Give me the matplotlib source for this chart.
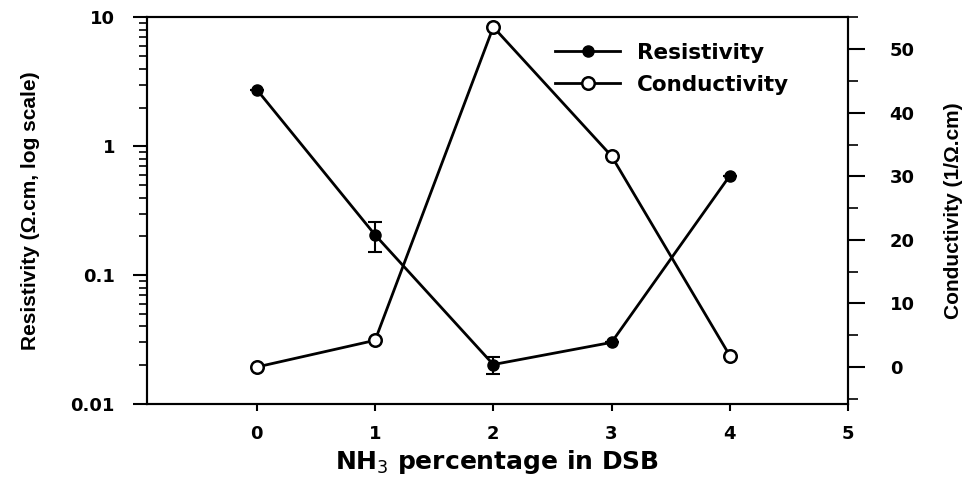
import numpy as np
import matplotlib.pyplot as plt
from matplotlib.ticker import LogLocator, NullFormatter, MultipleLocator

# donnees
nh3 = [0, 1, 2, 3, 4]
resistivite = [2.75, 0.205, 0.0202, 0.030, 0.59]
err_bas = [0.0, 0.055, 0.003, 0.0, 0.0]
err_haut = [0.0, 0.055, 0.003, 0.0, 0.0]
conductivite = [0.0, 4.2, 53.5, 33.2, 1.8]

x_ticks = [0, 1, 2, 3, 4, 5]
left_ticks = [0.01, 0.1, 1, 10]
left_labels = ['0.01', '0.1', '1', '10']
right_ticks = [0, 10, 20, 30, 40, 50]

plt.rcParams['font.family'] = ['DejaVu Sans']
label_font = ['Liberation Sans', 'DejaVu Sans']

fig = plt.figure(figsize=(9.73, 4.86), dpi=100)
ax1 = fig.add_axes([0.151, 0.169, 0.7205, 0.795])
ax2 = ax1.twinx()

# resistivite (echelle log)
l1, = ax1.plot(nh3, resistivite, '-o', color='black', lw=2, ms=8,
               mfc='black', mec='black', label='Resistivity')
ax1.errorbar(nh3, resistivite, yerr=[err_bas, err_haut], fmt='none',
             ecolor='black', elinewidth=1.5, capsize=5, capthick=1.5)
ax1.set_yscale('log')
ax1.set_ylim(0.01, 10)
ax1.set_xlim(-0.93, 5)
ax1.set_yticks(left_ticks)
ax1.set_yticklabels(left_labels)
ax1.yaxis.set_minor_locator(LogLocator(base=10, subs=np.arange(2, 10)))
ax1.yaxis.set_minor_formatter(NullFormatter())
ax1.set_xticks(x_ticks)
ax1.tick_params(axis='y', which='major', length=10, width=1.5, direction='out', pad=13)
ax1.tick_params(axis='y', which='minor', length=6, width=1.2, direction='out')
ax1.tick_params(axis='x', length=5, width=1.5, direction='out', pad=10)
for lab in ax1.get_xticklabels() + ax1.get_yticklabels():
    lab.set_fontweight('bold')
    lab.set_fontsize(13)
ax1.set_ylabel('Resistivity (\u03a9.cm, log scale)', fontsize=15,
               family=label_font, fontweight='bold', labelpad=22)
ax1.set_xlabel('NH$_3$ percentage in DSB', fontsize=18, fontweight='bold',
               labelpad=4)

# conductivite (echelle lineaire)
l2, = ax2.plot(nh3, conductivite, '-o', color='black', lw=2, ms=9,
               mfc='white', mec='black', mew=1.8, label='Conductivity')
ax2.set_ylim(-5.8, 55)
ax2.set_yticks(right_ticks)
ax2.yaxis.set_minor_locator(MultipleLocator(5))
ax2.tick_params(axis='y', which='major', length=12, width=1.5, direction='out', pad=18)
ax2.tick_params(axis='y', which='minor', length=7, width=1.2, direction='out')
for lab in ax2.get_yticklabels():
    lab.set_fontweight('bold')
    lab.set_fontsize(13)
ax2.set_ylabel('Conductivity (1/\u03a9.cm)', fontsize=15, family=label_font,
               fontweight='bold', labelpad=21)

for ax in (ax1, ax2):
    for sp in ax.spines.values():
        sp.set_linewidth(1.5)

leg = ax1.legend([l1, l2], ['Resistivity', 'Conductivity'], loc='upper left',
                 bbox_to_anchor=(0.555, 0.985), frameon=False, handlelength=3.0,
                 prop={'weight': 'bold', 'size': 15.5}, labelspacing=0.55)

plt.savefig('out.png', dpi=100)
